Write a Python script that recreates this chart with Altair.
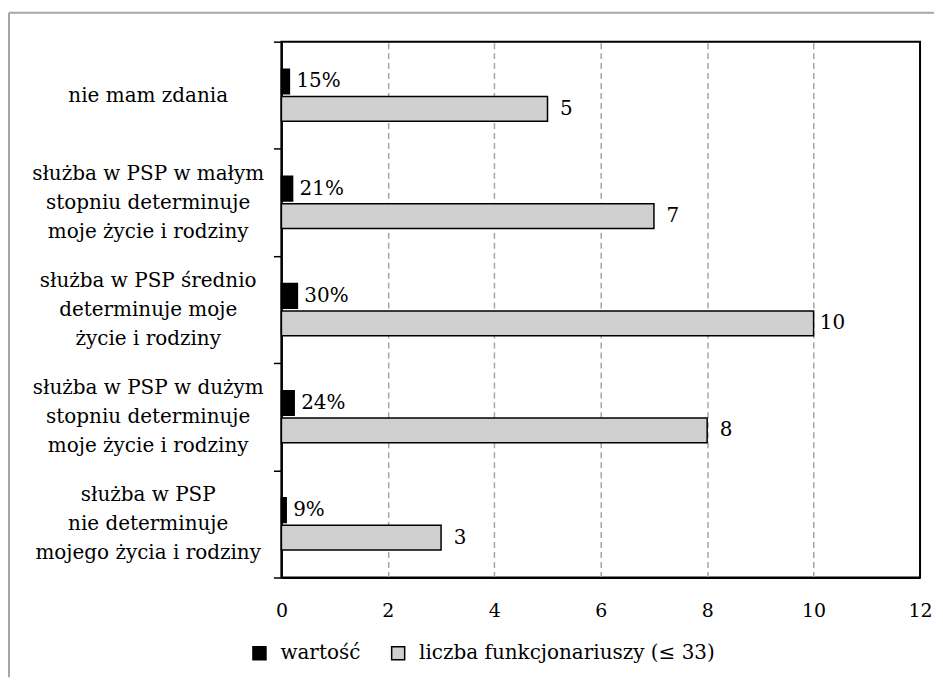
import altair as alt
import pandas as pd

categories = [
    "nie mam zdania",
    "służba w PSP w małym|stopniu determinuje|moje życie i rodziny",
    "służba w PSP średnio|determinuje moje|życie i rodziny",
    "służba w PSP w dużym|stopniu determinuje|moje życie i rodziny",
    "służba w PSP|nie determinuje|mojego życia i rodziny",
]
series = ["wartość", "liczba funkcjonariuszy (≤ 33)"]
share_pct = [15, 21, 30, 24, 9]
officers = [5, 7, 10, 8, 3]
x_ticks = [0, 2, 4, 6, 8, 10, 12]
colors = ["#000000", "#d0d0d0"]

FONT = "'DejaVu Serif', 'Liberation Serif', serif"

rows = []
for cat, p, n in zip(categories, share_pct, officers):
    rows.append({"cat": cat, "series": series[0], "value": p / 100, "label": f"{p}%"})
    rows.append({"cat": cat, "series": series[1], "value": n, "label": str(n)})
df = pd.DataFrame(rows)

y_enc = alt.Y(
    "cat:N",
    sort=categories,
    scale=alt.Scale(paddingInner=0, paddingOuter=0),
    axis=alt.Axis(
        title=None,
        tickBand="extent",
        labelExpr="length(split(datum.label, '|')) == 1 ? ['', datum.label] : split(datum.label, '|')",
        labelAlign="center",
        labelBaseline="middle",
        labelOffset=-29,
        labelPadding=126,
        labelLimit=400,
        labelFont=FONT,
        labelFontSize=20,
        labelLineHeight=29,
        labelColor="black",
        tickSize=8,
        tickColor="black",
        tickWidth=1.5,
        domainColor="black",
        domainWidth=2,
        grid=False,
    ),
)
yoff_enc = alt.YOffset(
    "series:N", sort=series, scale=alt.Scale(paddingInner=0.1, paddingOuter=1)
)
x_enc = alt.X(
    "value:Q",
    scale=alt.Scale(domain=[0, 12], nice=False),
    axis=alt.Axis(
        title=None,
        values=x_ticks,
        ticks=False,
        tickSize=0,
        labelPadding=24,
        labelFlush=False,
        labelFont=FONT,
        labelFontSize=19,
        labelColor="black",
        grid=True,
        gridDash=[6, 4],
        gridWidth=1.5,
        gridColor={
            "condition": {"test": "datum.value === 0 || datum.value === 12", "value": "transparent"},
            "value": "#a6a6a6",
        },
        domainColor="black",
        domainWidth=2,
    ),
)

bars = alt.Chart(df).mark_bar(stroke="black", strokeWidth=1.5).encode(
    x=x_enc,
    y=y_enc,
    yOffset=yoff_enc,
    color=alt.Color(
        "series:N",
        sort=series,
        scale=alt.Scale(domain=series, range=colors),
        legend=alt.Legend(
            title=None,
            orient="none",
            legendX=-32,
            legendY=603,
            direction="horizontal",
            symbolType="square",
            symbolSize=170,
            symbolStrokeColor="black",
            symbolStrokeWidth=1.5,
            labelFont=FONT,
            labelFontSize=20,
            labelColor="black",
            labelLimit=500,
            labelOffset=11,
            columnPadding=27,
        ),
    ),
)

pct_text = alt.Chart(df).transform_filter(alt.datum.series == series[0]).mark_text(
    align="left", baseline="middle", dx=7, font=FONT, fontSize=20, color="black"
).encode(x="value:Q", y=alt.Y("cat:N", sort=categories), yOffset=yoff_enc, text="label:N")

cnt_text = alt.Chart(df).transform_filter(alt.datum.series == series[1]).mark_text(
    align="center", baseline="middle", dx=19, font=FONT, fontSize=20, color="black"
).encode(x="value:Q", y=alt.Y("cat:N", sort=categories), yOffset=yoff_enc, text="label:N")

one = pd.DataFrame({"k": [0]})
frame_top = alt.Chart(one).mark_rule(color="#a6a6a6", strokeWidth=2).encode(
    x=alt.value(-273), x2=alt.value(654), y=alt.value(-29)
)
frame_left = alt.Chart(one).mark_rule(color="#a6a6a6", strokeWidth=2).encode(
    x=alt.value(-273), y=alt.value(-29), y2=alt.value(637)
)

chart = (
    alt.layer(frame_top, frame_left, bars, pct_text, cnt_text)
    .properties(width=640, height=537, padding={"left": 0, "top": 3, "right": 0, "bottom": 0})
    .configure_view(stroke="black", strokeWidth=2)
)

chart.save("out.html", embed_options={"renderer": "svg", "actions": False})
